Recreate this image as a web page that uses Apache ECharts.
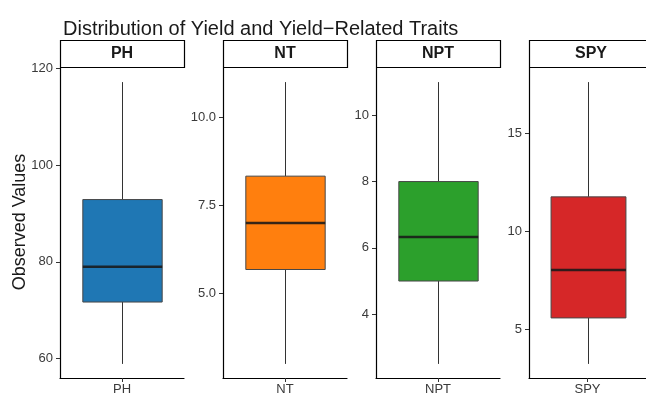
<!DOCTYPE html>
<html><head><meta charset="utf-8">
<script src="https://cdn.jsdelivr.net/npm/echarts@6/dist/echarts.min.js"></script>
<style>html,body{margin:0;padding:0;background:#fff}#c{width:646px;height:396px}</style>
</head><body><div id="c"></div>
<script>
const traits = ['PH', 'NT', 'NPT', 'SPY'];
// five-number summaries: [min, Q1, median, Q3, max]
const statsPH  = [58.9, 71.7, 79.0, 92.9, 117.2];
const statsNT  = [3.0, 5.68, 7.0, 8.33, 11.0];
const statsNPT = [2.5, 5.0, 6.33, 8.0, 11.0];
const statsSPY = [3.26, 5.6, 8.04, 11.76, 17.6];
const ticksPH  = [60, 80, 100, 120];
const ticksNT  = [5.0, 7.5, 10.0];
const ticksNPT = [4, 6, 8, 10];
const ticksSPY = [5, 10, 15];
const tickDecimals = [0, 1, 0, 0];
const fills = ['#1f77b4', '#ff7f0e', '#2ca02c', '#d62728'];

const stats = [statsPH, statsNT, statsNPT, statsSPY];
const ticks = [ticksPH, ticksNT, ticksNPT, ticksSPY];
const panelLeft = [60, 223, 376, 529];
const panelW = 124, panelTop = 68, panelH = 310, stripH = 28;
const FONT = 'Liberation Sans, Arial, sans-serif';

function limits(s) { const r = s[4] - s[0]; return [s[0] - 0.05 * r, s[4] + 0.05 * r]; }

const grid = [], xAxis = [], yAxis = [], series = [], graphic = [];
traits.forEach((t, i) => {
  grid.push({ left: panelLeft[i], top: panelTop, width: panelW, height: panelH, containLabel: false });
  xAxis.push({
    type: 'category', gridIndex: i, data: [t], boundaryGap: true,
    axisLine: { show: true, lineStyle: { color: '#000', width: 1.2 } },
    axisTick: { show: true, length: 4, alignWithLabel: true, lineStyle: { color: '#333' } },
    axisLabel: { fontSize: 13, color: '#3a3a3a', margin: 5, fontFamily: FONT },
    splitLine: { show: false }
  });
  const lim = limits(stats[i]);
  yAxis.push({
    type: 'value', gridIndex: i, min: lim[0], max: lim[1],
    axisLine: { show: true, lineStyle: { color: '#000', width: 1.2 } },
    axisTick: { show: true, length: 4, lineStyle: { color: '#333' }, customValues: ticks[i] },
    axisLabel: { fontSize: 13, color: '#3a3a3a', margin: 7, fontFamily: FONT,
      customValues: ticks[i], formatter: v => Number(v).toFixed(tickDecimals[i]) },
    splitLine: { show: false }
  });
  const fill = fills[i];
  series.push({
    type: 'custom', xAxisIndex: i, yAxisIndex: i,
    data: [[0].concat(stats[i])],
    encode: { x: 0, y: [1, 2, 3, 4, 5] },
    renderItem: function (params, api) {
      const x = api.value(0);
      const lo = api.coord([x, api.value(1)]);
      const q1 = api.coord([x, api.value(2)]);
      const md = api.coord([x, api.value(3)]);
      const q3 = api.coord([x, api.value(4)]);
      const hi = api.coord([x, api.value(5)]);
      const bw = api.size([1, 0])[0] * 0.64;
      const cx = Math.round(lo[0]) + 0.5;
      const ws = { stroke: '#333', lineWidth: 1 };
      return { type: 'group', children: [
        { type: 'line', shape: { x1: cx, y1: hi[1], x2: cx, y2: q3[1] }, style: ws },
        { type: 'line', shape: { x1: cx, y1: q1[1], x2: cx, y2: lo[1] }, style: ws },
        { type: 'rect', shape: { x: cx - bw / 2, y: q3[1], width: bw, height: q1[1] - q3[1] },
          style: { fill: fill, stroke: '#474747', lineWidth: 1 } },
        { type: 'line', shape: { x1: cx - bw / 2, y1: md[1], x2: cx + bw / 2, y2: md[1] },
          style: { stroke: 'rgba(25,25,25,0.88)', lineWidth: 2.6 } }
      ] };
    }
  });
  graphic.push({ type: 'rect', shape: { x: panelLeft[i] + 0.5, y: 40.5, width: panelW, height: stripH - 1 },
    style: { fill: '#fff', stroke: '#000', lineWidth: 1.2 } });
  graphic.push({ type: 'text', x: panelLeft[i] + panelW / 2, y: 40 + stripH / 2,
    style: { text: t, font: 'bold 16px ' + FONT, fill: '#1a1a1a', textAlign: 'center', textVerticalAlign: 'middle' } });
});
graphic.push({ type: 'text', x: 20.5, y: 222, rotation: Math.PI / 2,
  style: { text: 'Observed Values', font: '18px ' + FONT, fill: '#1a1a1a', textAlign: 'center', textVerticalAlign: 'middle' } });

const chart = echarts.init(document.getElementById('c'), null, { renderer: 'canvas' });
chart.setOption({
  animation: false,
  backgroundColor: '#fff',
  title: { text: 'Distribution of Yield and Yield\u2212Related Traits', left: 58, top: 14,
    textStyle: { fontSize: 20, fontWeight: 'normal', color: '#1a1a1a', fontFamily: FONT } },
  grid, xAxis, yAxis, series, graphic
});
</script>
</body></html>
